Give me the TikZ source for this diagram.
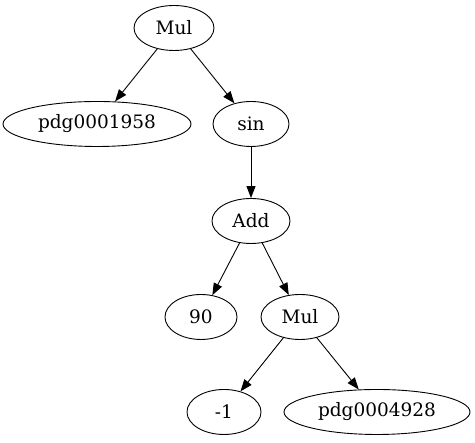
\documentclass[tikz,border=0pt]{standalone}
\usepackage{fontspec}
\setmainfont{DejaVu Serif}
\usetikzlibrary{shapes.geometric,arrows.meta}
\begin{document}
\begin{tikzpicture}[x=1pt,y=1pt,
  nd/.style={draw,ellipse,inner sep=0pt,minimum height=45pt,line width=0.9pt,font=\fontsize{18.5pt}{20pt}\selectfont},
  ed/.style={draw,-{Triangle[length=12pt,width=9pt]},line width=0.9pt}]
\useasboundingbox (0,0) rectangle (475,443);
\node[nd,minimum width=80pt] (mul1) at (174,415) {Mul};
\node[nd,minimum width=188pt] (p1) at (97,319) {pdg0001958};
\node[nd,minimum width=76pt] (sin) at (251,319) {sin};
\node[nd,minimum width=78pt] (add) at (251,222) {Add};
\node[nd,minimum width=72pt] (n90) at (201,126) {90};
\node[nd,minimum width=78pt] (mul2) at (300,126) {Mul};
\node[nd,minimum width=74pt] (m1) at (224,31) {-1};
\node[nd,minimum width=186pt] (p2) at (377,31) {pdg0004928};
\draw[ed] (mul1) -- (p1);
\draw[ed] (mul1) -- (sin);
\draw[ed] (sin) -- (add);
\draw[ed] (add) -- (n90);
\draw[ed] (add) -- (mul2);
\draw[ed] (mul2) -- (m1);
\draw[ed] (mul2) -- (p2);
\end{tikzpicture}
\end{document}
